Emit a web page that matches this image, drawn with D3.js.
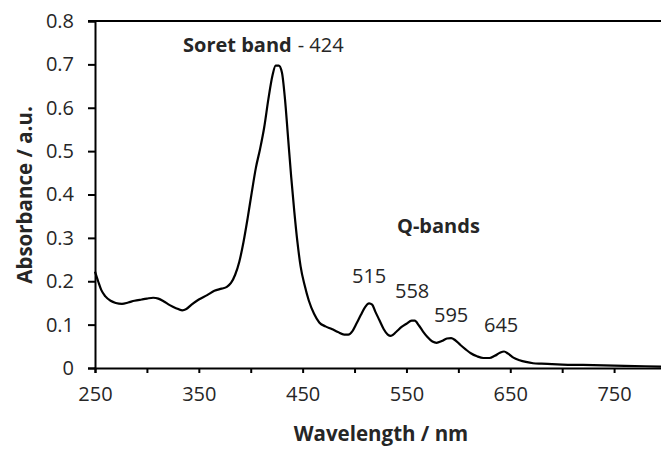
<!DOCTYPE html>
<html>
<head>
<meta charset="utf-8">
<script src="https://cdn.jsdelivr.net/npm/d3@7"></script>
<style>
  html, body { margin: 0; padding: 0; background: #fff; }
  svg { display: block; }
  text { font-family: "Open Sans", "Liberation Sans", sans-serif; fill: #262626; }
</style>
</head>
<body>
<script>
// Wavelength (nm)
const wavelength = [250,253,256,260,265,270,276,282,288,295,300,306,311,316,322,328,334,338,343,350,358,365,372,377,381,385,389,393,397,401,405,409,413,417,421,424,427,430,433,436,439,442,445,448,452,456,461,466,472,478,484,490,494,498,502,506,510,514,517,520,524,528,532,535,540,545,550,555,558,562,566,570,575,579,584,589,593,597,602,607,612,618,624,630,635,640,644,648,653,659,665,672,680,690,700,720,740,760,780,800];
// Absorbance (a.u.)
const absorbance = [0.222,0.200,0.180,0.165,0.155,0.150,0.148,0.151,0.155,0.158,0.160,0.162,0.160,0.154,0.145,0.138,0.133,0.136,0.146,0.158,0.168,0.178,0.183,0.187,0.196,0.215,0.245,0.290,0.345,0.405,0.462,0.505,0.555,0.620,0.675,0.697,0.697,0.682,0.620,0.530,0.440,0.360,0.290,0.235,0.190,0.155,0.125,0.105,0.096,0.090,0.083,0.077,0.077,0.085,0.103,0.122,0.140,0.149,0.146,0.130,0.110,0.090,0.077,0.074,0.083,0.094,0.102,0.109,0.109,0.098,0.084,0.072,0.061,0.058,0.062,0.068,0.069,0.064,0.053,0.043,0.034,0.027,0.023,0.023,0.028,0.035,0.038,0.033,0.024,0.018,0.014,0.011,0.010,0.009,0.008,0.007,0.006,0.005,0.004,0.003];

const xTickValues = [250,300,350,400,450,500,550,600,650,700,750,800];
const xTickLabels = [250,350,450,550,650,750];
const yTickValues = [0,0.1,0.2,0.3,0.4,0.5,0.6,0.7,0.8];

const peakLabels = ["515","558","595","645"];

const W = 661, H = 450;
const svg = d3.select("body").append("svg").attr("width", W).attr("height", H);

const x = d3.scaleLinear().domain([250, 800]).range([95, 666]);
const y = d3.scaleLinear().domain([0, 0.8]).range([368, 21]);

// top border line at 0.8
svg.append("line")
  .attr("x1", 88).attr("x2", W).attr("y1", y(0.8)).attr("y2", y(0.8))
  .attr("stroke", "#000").attr("stroke-width", 2);

// Y axis
const yAxis = d3.axisLeft(y).tickValues(yTickValues).tickSize(7).tickPadding(14)
  .tickFormat(d => d === 0 ? "0" : d3.format(".1f")(d));
const gy = svg.append("g").attr("transform", "translate(95,0)").call(yAxis);
gy.select(".domain").attr("stroke", "#000").attr("stroke-width", 2);
gy.selectAll(".tick line").attr("stroke", "#000").attr("stroke-width", 2);
gy.selectAll(".tick text").attr("font-size", 20).attr("font-family", "'Open Sans', sans-serif").attr("fill", "#262626");

// X axis
const xAxis = d3.axisBottom(x).tickValues(xTickValues).tickSize(5).tickPadding(14)
  .tickFormat(d => xTickLabels.includes(d) ? d : "");
const gx = svg.append("g").attr("transform", "translate(0,368)").call(xAxis);
gx.select(".domain").attr("stroke", "#000").attr("stroke-width", 2);
gx.selectAll(".tick line").attr("stroke", "#000").attr("stroke-width", 2);
gx.selectAll(".tick text").attr("font-size", 20).attr("font-family", "'Open Sans', sans-serif").attr("fill", "#262626");

// Curve
const data = wavelength.map((w, i) => [w, absorbance[i]]);
const line = d3.line().x(d => x(d[0])).y(d => y(d[1])).curve(d3.curveMonotoneX);
svg.append("path").datum(data).attr("d", line)
  .attr("fill", "none").attr("stroke", "#000").attr("stroke-width", 2.2)
  .attr("stroke-linejoin", "round");

// Axis titles
svg.append("text").attr("x", 381).attr("y", 441).attr("text-anchor", "middle")
  .attr("font-size", 20.5).attr("font-weight", "bold").text("Wavelength / nm");
svg.append("text").attr("transform", "translate(32,195) rotate(-90)").attr("text-anchor", "middle")
  .attr("font-size", 20.5).attr("font-weight", "bold").text("Absorbance / a.u.");

// Soret band annotation
const soret = svg.append("text").attr("x", 183).attr("y", 52).attr("font-size", 20);
soret.append("tspan").attr("font-weight", "bold").text("Soret band");
soret.append("tspan").attr("dx", 6).text("- 424");

// Q-bands
svg.append("text").attr("x", 397).attr("y", 233).attr("font-size", 20).attr("font-weight", "bold").text("Q-bands");

// Peak labels
const peakX = [352, 395, 434, 484];
const peakY = [283, 298, 322, 332];
svg.selectAll("text.peak").data(peakLabels).enter().append("text")
  .attr("class", "peak")
  .attr("x", (d, i) => peakX[i]).attr("y", (d, i) => peakY[i])
  .attr("font-size", 20).text(d => d);
</script>
</body>
</html>
